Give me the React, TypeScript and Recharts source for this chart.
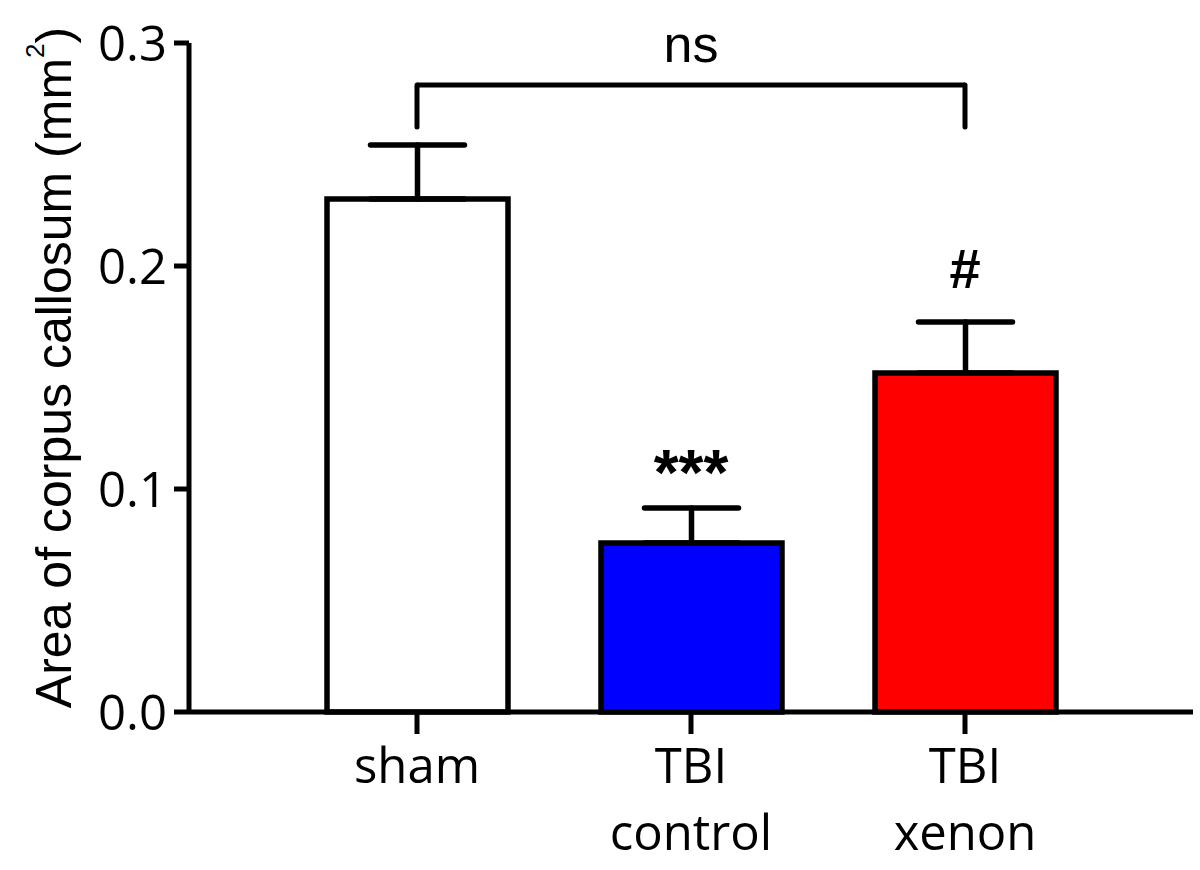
import React from 'react';
import {
  BarChart,
  Bar,
  XAxis,
  YAxis,
  ErrorBar,
  Cell,
  ReferenceLine,
  ReferenceDot,
} from 'recharts';

// group means with SEM (upward error bars only)
const groups = ['sham', 'TBI control', 'TBI xenon'];
const means = [0.23, 0.0758, 0.152];
const sems = [0.0243, 0.0157, 0.0229];
const fills = ['#ffffff', '#0000ff', '#ff0000'];
const yTicks = [0, 0.1, 0.2, 0.3];

// significance marks, y is the text baseline in data units
const marks = ['', '***', '#'];
const markY = [0, 0.0975, 0.19];
const bracketY = 0.2812;
const bracketFoot = 0.2623;
const nsY = 0.2915;

const data = groups.map((g, i) => ({ group: g, mean: means[i], err: [0, sems[i]] }));

const line = { stroke: '#000', strokeWidth: 5 };

const XTick = ({ x, y, payload }: any) => {
  const parts = String(payload.value).split(' ');
  return (
    <text x={x} y={y} textAnchor="middle" fontFamily="Open Sans" fontSize={49} fill="#000">
      {parts.map((p, i) => (
        <tspan key={i} x={x} dy={i === 0 ? 47 : 67}>
          {p}
        </tspan>
      ))}
    </text>
  );
};

const YTick = ({ x, y, payload }: any) => (
  <text x={x} y={y + 17.5} textAnchor="end" fontFamily="Open Sans" fontSize={49} fill="#000">
    {Number(payload.value).toFixed(1)}
  </text>
);

const YTitle = ({ viewBox }: any) => {
  const cy = viewBox.y + viewBox.height / 2 - 10;
  return (
    <text
      transform={`translate(71, ${cy}) rotate(-90)`}
      textAnchor="middle"
      fontFamily="Liberation Sans"
      fontSize={50}
      fill="#000"
    >
      Area of corpus callosum (mm
      <tspan fontSize={26} dy={-27}>2</tspan>
      <tspan dy={27}>)</tspan>
    </text>
  );
};

const SigText = ({ viewBox, value, size, bold }: any) => (
  <text
    x={viewBox.x}
    y={viewBox.y}
    textAnchor="middle"
    fontFamily="Liberation Sans"
    fontWeight={bold ? 'bold' : 'normal'}
    fontSize={size}
    fill="#000"
  >
    {value}
  </text>
);

export default function App() {
  return (
    <div style={{ position: 'absolute', left: 0, top: 0, width: 1200, height: 870, background: '#fff' }}>
      <BarChart width={1200} height={870} data={data} margin={{ top: 43, right: 7, bottom: 0, left: 0 }}>
        <XAxis
          dataKey="group"
          padding={{ left: 91, right: 91 }}
          height={158}
          tickSize={22}
          tickMargin={2}
          axisLine={line}
          tickLine={line}
          tick={<XTick />}
        />
        <YAxis
          width={189}
          domain={[0, 0.3]}
          ticks={yTicks}
          tickSize={15}
          tickMargin={7}
          axisLine={line}
          tickLine={line}
          tick={<YTick />}
          label={<YTitle />}
        />
        <Bar dataKey="mean" barSize={181} stroke="#000" strokeWidth={5.5} isAnimationActive={false}>
          {data.map((d, i) => (
            <Cell key={d.group} fill={fills[i]} />
          ))}
          <ErrorBar
            dataKey="err"
            direction="y"
            width={47}
            stroke="#000"
            strokeWidth={5.5}
            strokeLinecap="round"
            isAnimationActive={false}
          />
        </Bar>
        <ReferenceLine
          position="middle"
          stroke="#000"
          strokeWidth={5}
          segment={[{ x: groups[0], y: bracketY }, { x: groups[2], y: bracketY }]}
        />
        <ReferenceLine
          position="middle"
          stroke="#000"
          strokeWidth={5}
          strokeLinecap="round"
          segment={[{ x: groups[0], y: bracketY }, { x: groups[0], y: bracketFoot }]}
        />
        <ReferenceLine
          position="middle"
          stroke="#000"
          strokeWidth={5}
          strokeLinecap="round"
          segment={[{ x: groups[2], y: bracketY }, { x: groups[2], y: bracketFoot }]}
        />
        <ReferenceDot
          x={groups[1]}
          y={nsY}
          r={0}
          stroke="none"
          label={<SigText value="ns" size={52} />}
        />
        {groups.map((g, i) =>
          marks[i] ? (
            <ReferenceDot
              key={g}
              x={g}
              y={markY[i]}
              r={0}
              stroke="none"
              label={<SigText value={marks[i]} size={i === 1 ? 64 : 56} bold />}
            />
          ) : null
        )}
      </BarChart>
    </div>
  );
}
